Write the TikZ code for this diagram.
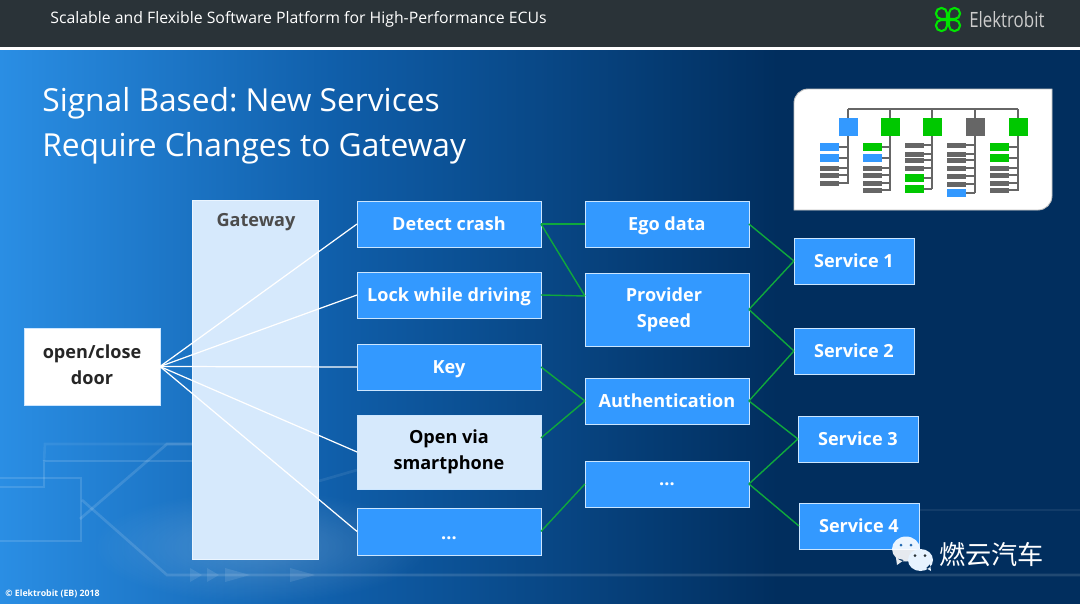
\documentclass[tikz,border=0pt]{standalone}
\usepackage{fontspec}
\setmainfont{Open Sans}
\newfontfamily\cjk{Noto Sans CJK SC}
\usetikzlibrary{positioning, calc, fadings}
\definecolor{ebblue}{HTML}{3399FF}
\definecolor{ebgreen}{HTML}{00C800}
\definecolor{ebline}{HTML}{0FA83C}
\definecolor{ebgrey}{HTML}{666666}
\definecolor{ebhead}{HTML}{2A3338}
\definecolor{ebpale}{HTML}{D6E9FC}
\definecolor{bgleft}{HTML}{2A8EE4}
\definecolor{bgmid}{HTML}{0F5DA8}
\definecolor{bgright}{HTML}{012E5E}
\pgfdeclarehorizontalshading{slideback}{100bp}{
  color(0bp)=(bgleft); color(25bp)=(bgleft); color(41bp)=(bgmid); color(61bp)=(bgright); color(100bp)=(bgright)}
\tikzfading[name=glow, inner color=transparent!80, outer color=transparent!100]
\newcommand{\labelstrut}{\rule[-2.5pt]{0pt}{12pt}}

\begin{document}
\begin{tikzpicture}[
  x=0.02cm, y=-0.02cm,
  func/.style={rectangle, draw=white!75!ebblue, line width=0.4pt, fill=ebblue, text=white,
    minimum width=3.68cm, minimum height=0.92cm, inner sep=0pt, outer sep=0pt, align=center,
    font=\fontsize{10.3}{14.7}\selectfont\bfseries,
    execute at begin node=\labelstrut, execute at end node=\labelstrut},
  provider/.style={func, minimum width=3.28cm},
  service/.style={func, minimum width=2.4cm},
  lightbox/.style={func, fill=ebpale, text=black},
  whitelink/.style={white, line width=0.7pt},
  greenlink/.style={ebline, line width=0.8pt},
  trace/.style={white, opacity=0.13, line width=1.5pt},
  wire/.style={ebgrey, line width=0.75pt}
]
\useasboundingbox (0,0) rectangle (1080,603);

% background
\path [shading=slideback] (0,50) rectangle (1080,603);
\fill [white, path fading=glow] (90,490) rectangle (430,603);

% circuit traces
\draw [trace] (0,487) -- (44,487) -- (44,461) -- (192,461);
\draw [trace, opacity=0.07] (44,461) -- (45,444) -- (192,444);
\draw [trace] (0,478) -- (81,478) -- (81,541) -- (0,541);
\draw [trace] (80,519) -- (167,444) -- (192,444);
\draw [trace] (82,500) -- (167,575) -- (1080,575);
\draw [trace, opacity=0.08] (319,481) -- (357,470);
\draw [trace, opacity=0.07] (920,510) -- (1080,510);
\fill [white, opacity=0.1] (190,568) -- (202,575) -- (190,582) -- cycle
  (207,568) -- (219,575) -- (207,582) -- cycle
  (225,568) -- (250,575) -- (225,582) -- cycle
  (290,568) -- (315,575) -- (290,582) -- cycle;

% header
\fill [ebhead] (0,0) rectangle (1080,47);
\fill [white] (0,47) rectangle (1080,50);
\node (headline) [text=white, font=\fontsize{9}{11}\selectfont, anchor=west, inner sep=0pt] at (50,19)
  {Scalable and Flexible Software Platform for High-Performance ECUs};
\node (brand) [text=white!80!black, font=\fontsize{12}{16}\selectfont, anchor=west, inner sep=0pt, xscale=0.8, transform shape] at (969,20) {Elektrobit};
\draw [green!90!black, line width=1.2pt, rounded corners=3pt]
  (947,19) -- (936,19) -- (936,8) -- (947,8) -- (947,31) -- (936,31) -- (936,20) -- (947,20)
  (949,19) -- (960,19) -- (960,8) -- (949,8) -- (949,31) -- (960,31) -- (960,20) -- (949,20);

% title
\node (title) [text=white, font=\fontsize{18.05}{25.4}\selectfont\frenchspacing, align=left, anchor=north west, inner sep=0pt] at (42,87)
  {Signal Based: New Services\\Require Changes to Gateway};

% overview icon
\path [fill=white, draw=white!75!black, line width=0.5pt]
  (794,210) [rounded corners=0.28cm] -- (794,89) [sharp corners] -- (1052,89)
  [rounded corners=0.28cm] -- (1052,210) [sharp corners] -- cycle;
\draw [wire] (848,109) -- (1018,109);
\foreach \xx/\yy/\col in {848/184/ebblue, 890/191/ebgreen, 932/189/ebgreen, 975/193/ebgrey, 1018/191/ebgreen} {
  \draw [wire] (\xx,109) -- (\xx,\yy);
  \fill [\col] ({\xx-9.5},118) rectangle ({\xx+9.5},136);
}
\foreach \xa/\xx/\rows in {
  820/848/{147/ebblue/4,158/ebblue/4,168/ebgrey/2.5,175/ebgrey/2.5,183/ebgrey/2.5},
  863/890/{147/ebgreen/4,158/ebblue/4,168/ebgrey/2.5,175/ebgrey/2.5,183/ebgrey/2.5,190/ebgrey/2.5},
  905/932/{145/ebgrey/2.5,154/ebgrey/2.5,160/ebgrey/2.5,168/ebgrey/2.5,178/ebgreen/4,189/ebgreen/4},
  947/975/{145/ebgrey/2.5,154/ebgrey/2.5,160/ebgrey/2.5,168/ebgrey/2.5,176/ebgrey/2.5,184/ebgrey/2.5,193/ebblue/4},
  990/1018/{147/ebgreen/4,158/ebgreen/4,168/ebgrey/2.5,175/ebgrey/2.5,183/ebgrey/2.5,190/ebgrey/2.5}} {
  \foreach \yy/\col/\hh in \rows {
    \draw [wire] (\xa,\yy) -- (\xx,\yy);
    \fill [\col] (\xa,{\yy-\hh}) rectangle ({\xa+19},{\yy+\hh});
  }
}

% gateway
\node (gateway) [rectangle, fill=ebpale, draw=white!90!ebblue, line width=0.4pt, minimum width=2.52cm, minimum height=7.18cm, outer sep=0pt,
  anchor=north west] at (192,200.5) {};
\node (gwlabel) [text=black!70, font=\fontsize{10.3}{14}\selectfont\bfseries] at (256,222) {Gateway};
\node (door) [func, fill=white, text=black!85, minimum width=2.72cm, minimum height=1.54cm, anchor=north west] at (24,328)
  {open/close\\door};

% functions
\node (crash) [func, anchor=north west] at (357,201) {Detect crash};
\node (lock) [func, below=0.5cm of crash] {Lock while driving};
\node (key) [func, below=0.52cm of lock] {Key};
\node (phone) [lightbox, below=0.5cm of key, minimum height=1.48cm] {Open via\\smartphone};
\node (more) [func, below=0.38cm of phone, minimum height=0.94cm] {\raisebox{-1pt}{...}};

% providers
\node (ego) [provider, right=0.88cm of crash] {Ego data};
\node (speed) [provider, below=0.52cm of ego, minimum height=1.46cm] {Provider\hspace*{3.4pt}\\Speed\hspace*{3.4pt}};
\node (auth) [provider, below=0.64cm of speed] {Authentication};
\node (more2) [provider, below=0.74cm of auth] {\raisebox{2.4pt}{...}};

% services
\node (s1) [service, right=0.9cm of ego, yshift=-0.74cm] {Service 1};
\node (s2) [service, below=0.88cm of s1] {Service 2};
\node (s3) [service, below=0.84cm of s2, xshift=0.08cm] {Service 3};
\node (s4) [service, below=0.82cm of s3, xshift=0.02cm] {Service 4};

% links
\coordinate (speedin) at ($(speed.north west)+(0,23)$);
\coordinate (phoneout) at ($(phone.north east)+(0,23)$);
\foreach \n in {crash, lock, key, phone, more}
  \draw [whitelink] (door.east) -- (\n.west);
\draw [greenlink] (crash.east) -- (ego.west);
\draw [greenlink] (crash.east) -- (speedin);
\draw [greenlink] (lock.east) -- (speedin);
\draw [greenlink] (key.east) -- (auth.west);
\draw [greenlink] (phoneout) -- (auth.west);
\draw [greenlink] (more.east) -- (more2.west);
\draw [greenlink] (ego.east) -- (s1.west);
\draw [greenlink] (speed.east) -- (s1.west);
\draw [greenlink] (speed.east) -- (s2.west);
\draw [greenlink] (auth.east) -- (s2.west);
\draw [greenlink] (auth.east) -- (s3.west);
\draw [greenlink] (more2.east) -- (s3.west);
\draw [greenlink] (more2.east) -- (s4.west);

% footer and watermark
\node (copy) [text=white, font=\fontsize{5}{6}\selectfont\bfseries, anchor=west, inner sep=0pt] at (5,594) {© Elektrobit (EB) 2018};
\fill [white, opacity=0.9] (906,549) ellipse (14 and 12.5) (896,558) -- (897,565) -- (904,560) -- cycle;
\fill [white!88!ebblue] (920.5,560) ellipse (12.5 and 11) (926,568) -- (931,571) -- (930,564) -- cycle;
\fill [ebblue!70!black] (901,545) circle (1.5) (911,545) circle (1.5);
\fill [ebhead] (915,555.5) circle (1.5) (925,555.5) circle (1.5);
\node (mark) [text=white, font=\cjk\fontsize{14.9}{17}\selectfont, anchor=west, inner sep=0pt] at (939,555) {燃云汽车};
\end{tikzpicture}
\end{document}
